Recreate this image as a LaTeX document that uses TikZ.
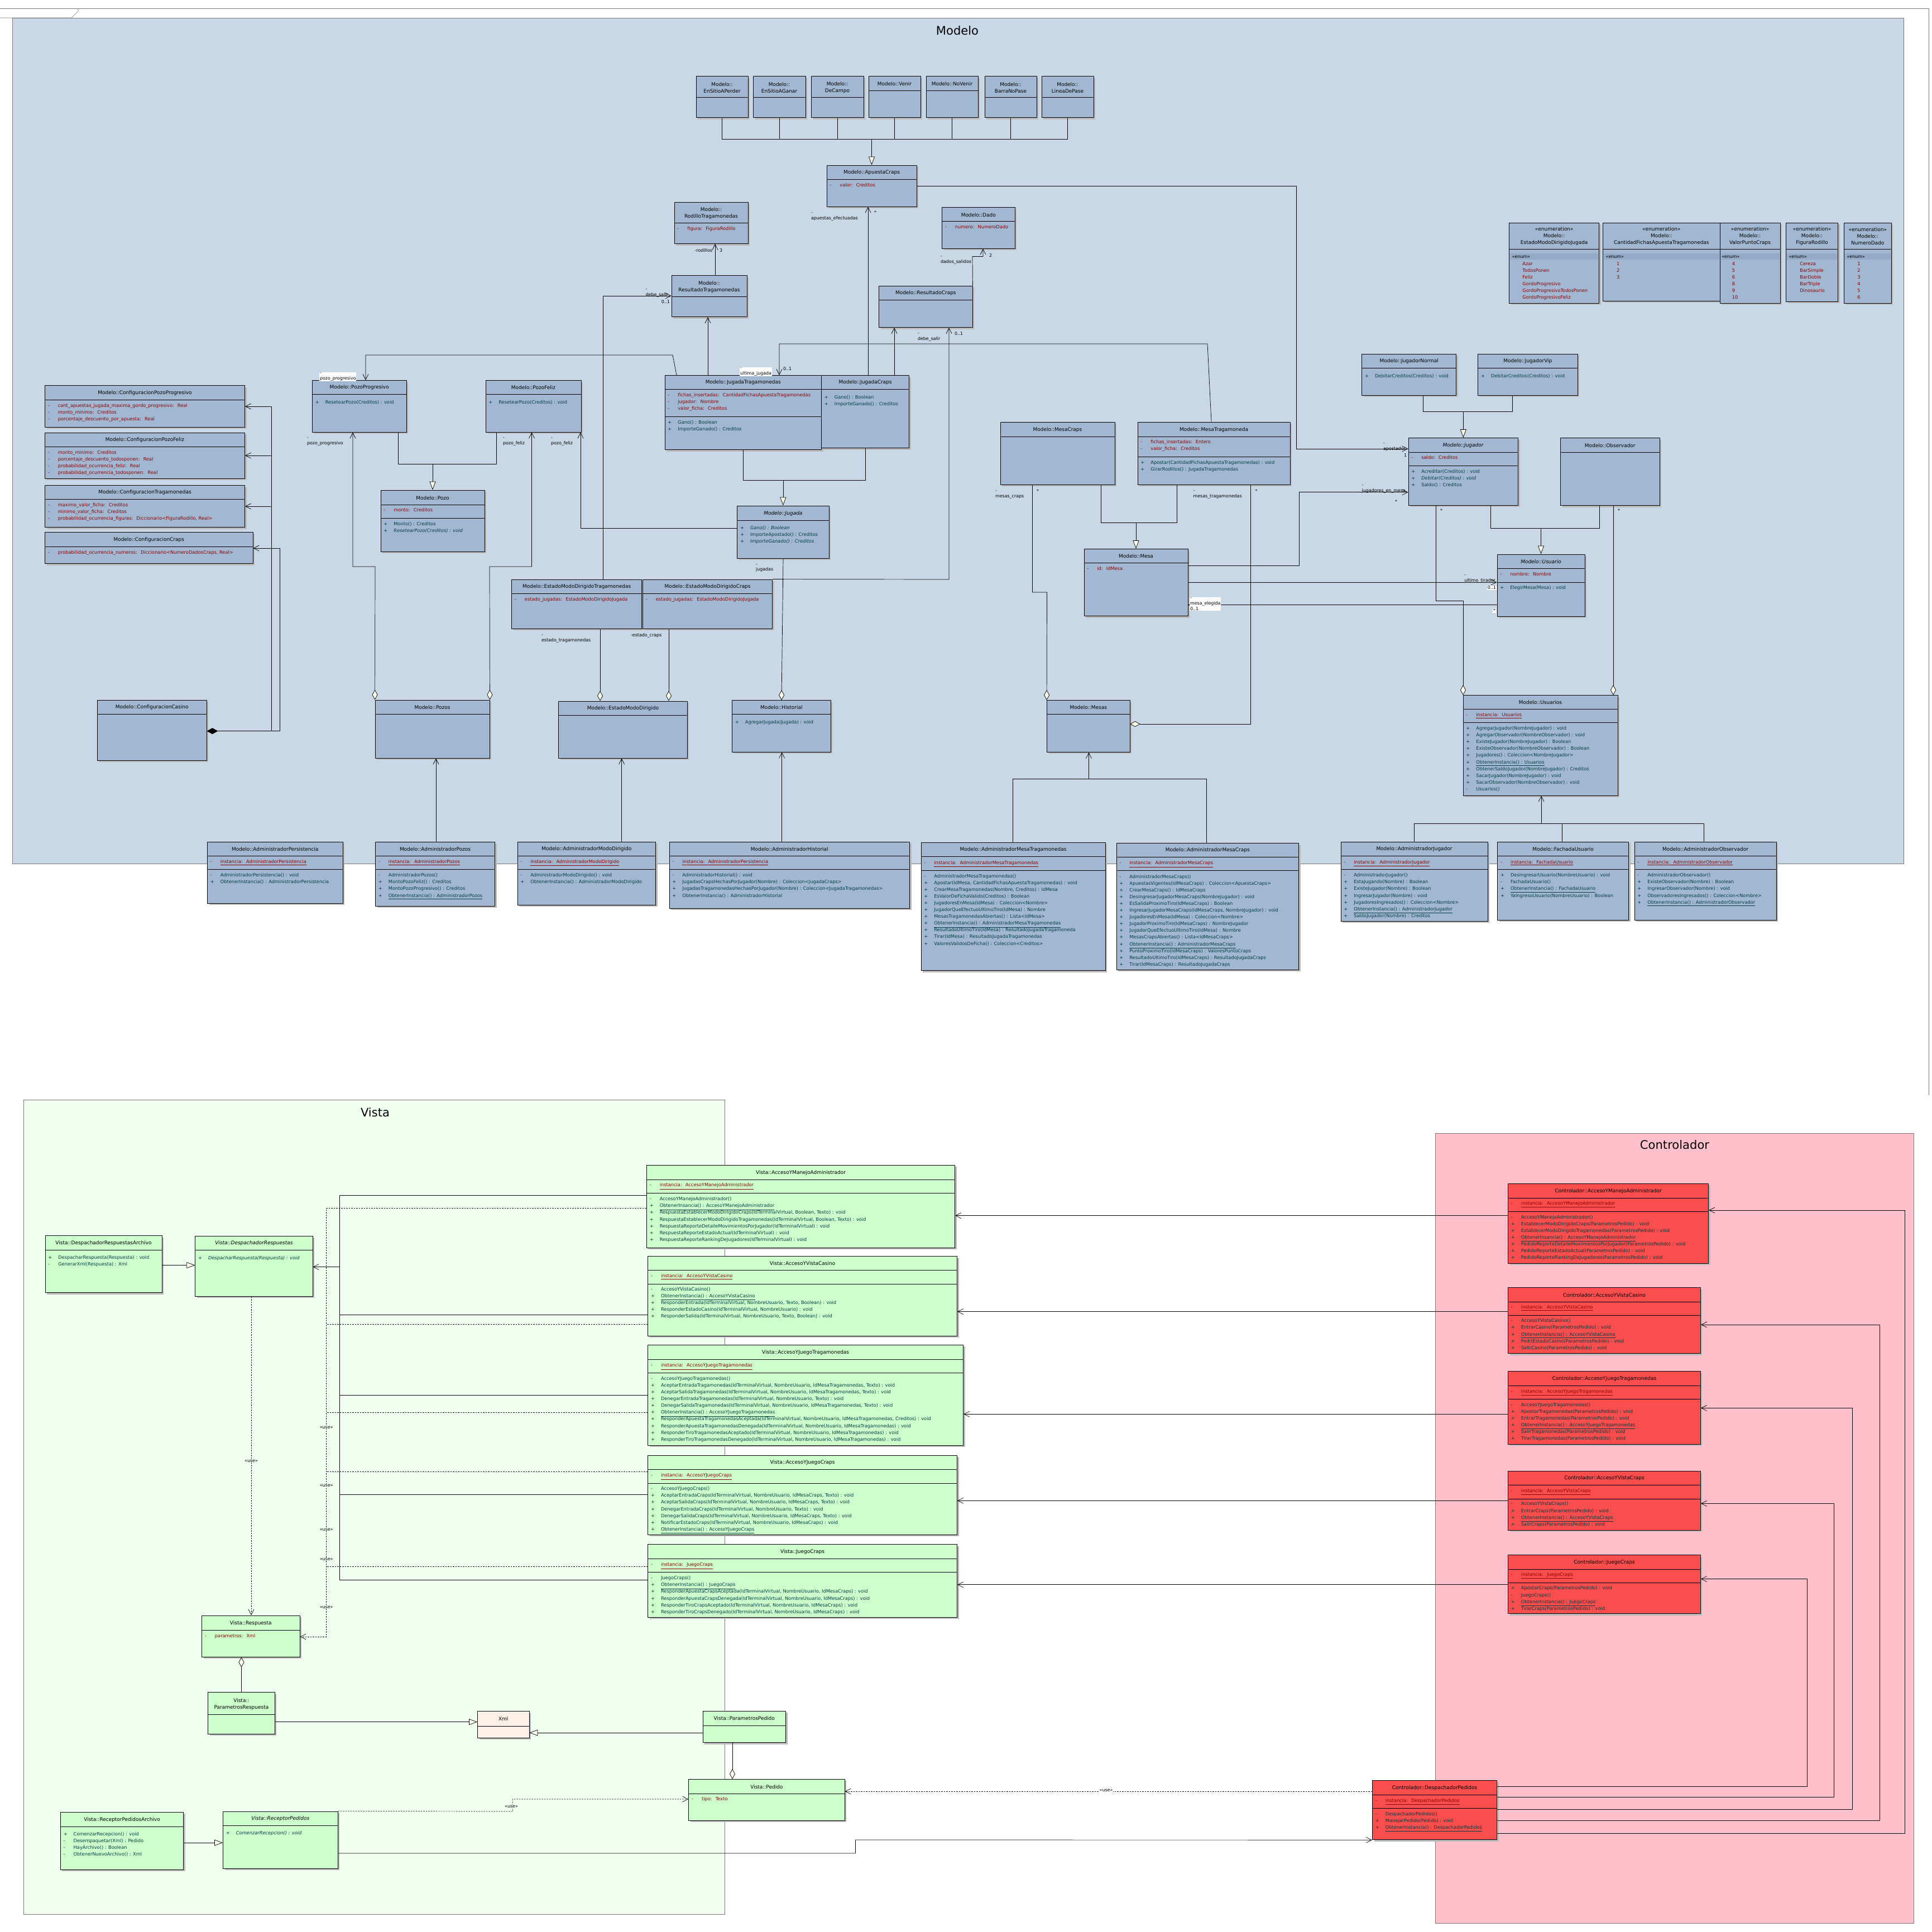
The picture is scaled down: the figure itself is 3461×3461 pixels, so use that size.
\documentclass[tikz,border=0pt]{standalone}
\usepackage{fontspec}
\setmainfont{DejaVu Sans}
\usetikzlibrary{arrows.meta,fit}
\definecolor{mpkg}{RGB}{201,216,230}
\definecolor{mcls}{RGB}{162,184,210}
\definecolor{menum}{RGB}{148,170,198}
\definecolor{vpkg}{RGB}{240,255,240}
\definecolor{vcls}{RGB}{204,255,204}
\definecolor{cpkg}{RGB}{255,192,203}
\definecolor{ccls}{RGB}{250,77,77}
\definecolor{xmlcls}{RGB}{253,240,230}
\definecolor{attrred}{RGB}{140,0,0}
\definecolor{methteal}{RGB}{0,60,64}
\definecolor{shadowgray}{RGB}{185,185,185}
\definecolor{pkgline}{RGB}{120,120,120}
\definecolor{tipfill}{RGB}{255,255,235}

\newcommand{\umlclass}[6]{%
  \fill[shadowgray] (#3+3,#4+3) rectangle (#5+3,#6+3);
  \node[draw, line width=0.5pt, fill=#2, inner sep=0pt, fit={(#3,#4)(#5,#6)}] (#1) {};}
\newcommand{\clssep}[2]{\draw[line width=0.5pt] (#1.west |- 0,#2) -- (#1.east |- 0,#2);}
\newcommand{\clstitle}[3]{\node[ttl] at (#1.north |- 0,#2) {#3};}
\newcommand{\mlist}[4]{%
  \foreach \mmark/\mtext [count=\mnum from 0] in {#4}
    {\node[#1, anchor=base west] at (#2, #3+12.1*\mnum) {\makebox[0.36cm][l]{\mmark}\mtext};}}

\begin{document}
\begin{tikzpicture}[x=0.02cm, y=-0.02cm,
  ttl/.style={font=\fontsize{5.1}{6.8}\selectfont, align=center, inner sep=0pt},
  attr/.style={font=\fontsize{4.7}{5.6}\selectfont, text=attrred, inner sep=0pt},
  meth/.style={font=\fontsize{4.7}{5.6}\selectfont, text=methteal, inner sep=0pt},
  lbl/.style={font=\fontsize{4.5}{5.6}\selectfont, inner sep=0.4pt, align=left},
  pkgttl/.style={font=\fontsize{12}{14}\selectfont, inner sep=0pt},
  conn/.style={draw=black, line width=0.4pt},
  assoc/.style={conn, -{Straight Barb[length=0.2cm, width=0.2cm]}},
  gen/.style={conn, -{Triangle[fill=tipfill, length=0.3cm, width=0.22cm]}},
  aggr/.style={conn, {Diamond[fill=tipfill, length=0.36cm, width=0.2cm]}-},
  aggrto/.style={conn, {Diamond[fill=tipfill, length=0.36cm, width=0.2cm]}-{Straight Barb[length=0.2cm, width=0.2cm]}},
  dep/.style={conn, dash pattern=on 0.05cm off 0.04cm, -{Straight Barb[length=0.2cm, width=0.2cm]}},
  depline/.style={conn, dash pattern=on 0.05cm off 0.04cm}]
\useasboundingbox (0,0) rectangle (3461,3461);
\fill[white] (0,0) rectangle (3461,3461);

\draw[pkgline, line width=0.4pt] (0,15) -- (3455,15) -- (3455,1962);
\draw[pkgline, line width=0.4pt] (0,32) -- (128,32) -- (140,20) -- (140,15);

% packages
\draw[pkgline, fill=mpkg, line width=0.4pt] (22,32) rectangle (3410,1547);
\node[pkgttl] (tModelo) at (1715,55) {Modelo};
\draw[pkgline, fill=vpkg, line width=0.4pt] (42,1970) rectangle (1298,3429);
\node[pkgttl] (tVista) at (672,1993) {Vista};
\draw[pkgline, fill=cpkg, line width=0.4pt] (2571,2030) rectangle (3428,3445);
\node[pkgttl] (tControlador) at (3000,2051) {Controlador};

% Modelo: apuestas craps
\umlclass{EnSitioAPerder}{mcls}{1247}{136.5}{1340}{210.6}
\clssep{EnSitioAPerder}{174.5}
\clstitle{EnSitioAPerder}{157}{Modelo::\\EnSitioAPerder}
\umlclass{EnSitioAGanar}{mcls}{1349}{136.5}{1443}{210.6}
\clssep{EnSitioAGanar}{174.5}
\clstitle{EnSitioAGanar}{157}{Modelo::\\EnSitioAGanar}
\umlclass{DeCampo}{mcls}{1453}{136.5}{1547}{210.6}
\clssep{DeCampo}{174.5}
\clstitle{DeCampo}{157}{Modelo::\\DeCampo}
\umlclass{Venir}{mcls}{1556}{136.5}{1649}{210.6}
\clssep{Venir}{162.4}
\clstitle{Venir}{150}{Modelo::Venir}
\umlclass{NoVenir}{mcls}{1659}{136.5}{1752}{210.6}
\clssep{NoVenir}{162.4}
\clstitle{NoVenir}{150}{Modelo::NoVenir}
\umlclass{BarraNoPase}{mcls}{1764}{136.5}{1857}{210.6}
\clssep{BarraNoPase}{174.5}
\clstitle{BarraNoPase}{157}{Modelo::\\BarraNoPase}
\umlclass{LineaDePase}{mcls}{1866}{136.5}{1959}{210.6}
\clssep{LineaDePase}{174.5}
\clstitle{LineaDePase}{157}{Modelo::\\LineaDePase}

\umlclass{ApuestaCraps}{mcls}{1481}{296}{1642}{370}
\clssep{ApuestaCraps}{321}
\clstitle{ApuestaCraps}{309}{Modelo::ApuestaCraps}
\mlist{attr}{1486}{334.6}{-/valor:~ Creditos}

\umlclass{RodilloTragamonedas}{mcls}{1208}{362}{1340}{436.5}
\clssep{RodilloTragamonedas}{399.5}
\clstitle{RodilloTragamonedas}{382}{Modelo::\\RodilloTragamonedas}
\mlist{attr}{1213}{412}{-/figura:~ FiguraRodillo}

\umlclass{ResultadoTragamonedas}{mcls}{1203}{493.6}{1338}{567.7}
\clssep{ResultadoTragamonedas}{531.6}
\clstitle{ResultadoTragamonedas}{514}{Modelo::\\ResultadoTragamonedas}

\umlclass{Dado}{mcls}{1687.5}{371}{1818}{445}
\clssep{Dado}{396}
\clstitle{Dado}{385}{Modelo::Dado}
\mlist{attr}{1692.5}{409.6}{-/numero:~ NumeroDado}

\umlclass{ResultadoCraps}{mcls}{1574.6}{512}{1742}{586.5}
\clssep{ResultadoCraps}{537}
\clstitle{ResultadoCraps}{525}{Modelo::ResultadoCraps}

\umlclass{JugadaTragamonedas}{mcls}{1191}{672.5}{1471.5}{805.5}
\clssep{JugadaTragamonedas}{697}
\clssep{JugadaTragamonedas}{746.7}
\clstitle{JugadaTragamonedas}{685.5}{Modelo::JugadaTragamonedas}
\mlist{attr}{1196}{710.4}{-/fichas\_insertadas:~ CantidadFichasApuestaTragamonedas, -/jugador:~ Nombre, -/valor\_ficha:~ Creditos}
\mlist{meth}{1196}{759.2}{+/Gano() : Boolean, +/ImporteGanado() : Creditos}

\umlclass{JugadaCraps}{mcls}{1471.5}{672.5}{1628.7}{802.6}
\clssep{JugadaCraps}{697}
\clstitle{JugadaCraps}{685.5}{Modelo::JugadaCraps}
\mlist{meth}{1476.5}{714.3}{+/Gano() : Boolean, +/ImporteGanado() : Creditos}

\umlclass{Jugada}{mcls}{1320.7}{906}{1485}{1000}
\clssep{Jugada}{932}
\clstitle{Jugada}{920}{\textit{Modelo::Jugada}}
\mlist{meth}{1325.7}{948}{+/\textit{Gano() : Boolean}, +/ImporteApostado() : Creditos, +/\textit{ImporteGanado() : Creditos}}

% Modelo: pozos y configuracion
\umlclass{PozoProgresivo}{mcls}{559.5}{681.5}{728}{774}
\clssep{PozoProgresivo}{706.5}
\clstitle{PozoProgresivo}{694.5}{Modelo::PozoProgresivo}
\mlist{meth}{564.5}{723.4}{+/ResetearPozo(Creditos) : void}

\umlclass{PozoFeliz}{mcls}{870}{681.5}{1041}{774}
\clssep{PozoFeliz}{706.5}
\clstitle{PozoFeliz}{694.5}{Modelo::PozoFeliz}
\mlist{meth}{875}{723.4}{+/ResetearPozo(Creditos) : void}

\umlclass{Pozo}{mcls}{682}{878}{868}{988}
\clssep{Pozo}{904}
\clssep{Pozo}{928}
\clstitle{Pozo}{892}{Modelo::Pozo}
\mlist{attr}{687}{916.2}{-/monto:~ Creditos}
\mlist{meth}{687}{941}{+/Monto() : Creditos, +/\textit{ResetearPozo(Creditos) : void}}

\umlclass{Pozos}{mcls}{672}{1254}{877}{1358}
\clssep{Pozos}{1279}
\clstitle{Pozos}{1267}{Modelo::Pozos}

\umlclass{ConfigPozoProgresivo}{mcls}{80.5}{690.5}{438.5}{765.4}
\clssep{ConfigPozoProgresivo}{716}
\clstitle{ConfigPozoProgresivo}{704}{Modelo::ConfiguracionPozoProgresivo}
\mlist{attr}{85.5}{729.6}{-/cant\_apuestas\_jugada\_maxima\_gordo\_progresivo:~ Real, -/monto\_minimo:~ Creditos, -/porcentaje\_descuento\_por\_apuesta:~ Real}

\umlclass{ConfigPozoFeliz}{mcls}{80.5}{775}{438.5}{857.4}
\clssep{ConfigPozoFeliz}{800}
\clstitle{ConfigPozoFeliz}{788}{Modelo::ConfiguracionPozoFeliz}
\mlist{attr}{85.5}{813.5}{-/monto\_minimo:~ Creditos, -/porcentaje\_descuento\_todosponen:~ Real, -/probabilidad\_ocurrencia\_feliz:~ Real, -/probabilidad\_ocurrencia\_todosponen:~ Real}

\umlclass{ConfigTragamonedas}{mcls}{80.5}{869.5}{438.5}{944.5}
\clssep{ConfigTragamonedas}{894.5}
\clstitle{ConfigTragamonedas}{882.5}{Modelo::ConfiguracionTragamonedas}
\mlist{attr}{85.5}{907.3}{-/maximo\_valor\_ficha:~ Creditos, -/minimo\_valor\_ficha:~ Creditos, -/{probabilidad\_ocurrencia\_figuras:~ Diccionario<FiguraRodillo, Real>}}

\umlclass{ConfigCraps}{mcls}{80.5}{953}{453}{1009.6}
\clssep{ConfigCraps}{979}
\clstitle{ConfigCraps}{967}{Modelo::ConfiguracionCraps}
\mlist{attr}{85.5}{992.5}{-/{probabilidad\_ocurrencia\_numeros:~ Diccionario<NumeroDadosCraps, Real>}}

\umlclass{ConfigCasino}{mcls}{174.4}{1254}{370}{1362}
\clssep{ConfigCasino}{1279}
\clstitle{ConfigCasino}{1267}{Modelo::ConfiguracionCasino}

% Modelo: modo dirigido e historial
\umlclass{EstadoTragamonedas}{mcls}{916.6}{1038}{1149.7}{1126.4}
\clssep{EstadoTragamonedas}{1063}
\clstitle{EstadoTragamonedas}{1051}{Modelo::EstadoModoDirigidoTragamonedas}
\mlist{attr}{921.6}{1076.3}{-/estado\_jugadas:~ EstadoModoDirigidoJugada}

\umlclass{EstadoCraps}{mcls}{1151.5}{1038}{1383.6}{1126.4}
\clssep{EstadoCraps}{1063}
\clstitle{EstadoCraps}{1051}{Modelo::EstadoModoDirigidoCraps}
\mlist{attr}{1156.5}{1076.3}{-/estado\_jugadas:~ EstadoModoDirigidoJugada}

\umlclass{EstadoModoDirigido}{mcls}{1000.8}{1256}{1231}{1358}
\clssep{EstadoModoDirigido}{1281}
\clstitle{EstadoModoDirigido}{1269}{Modelo::EstadoModoDirigido}

\umlclass{Historial}{mcls}{1311.5}{1254.6}{1488}{1347}
\clssep{Historial}{1279.5}
\clstitle{Historial}{1267.5}{Modelo::Historial}
\mlist{meth}{1316.5}{1296.4}{+/AgregarJugada(Jugada) : void}

% Modelo: mesas
\umlclass{MesaCraps}{mcls}{1792}{756}{1997}{868}
\clssep{MesaCraps}{782}
\clstitle{MesaCraps}{770}{Modelo::MesaCraps}

\umlclass{MesaTragamoneda}{mcls}{2038}{756}{2311}{868}
\clssep{MesaTragamoneda}{782}
\clssep{MesaTragamoneda}{818}
\clstitle{MesaTragamoneda}{770}{Modelo::MesaTragamoneda}
\mlist{attr}{2043}{794}{-/fichas\_insertadas:~ Entero, -/valor\_ficha:~ Creditos}
\mlist{meth}{2043}{831.2}{+/Apostar(CantidadFichasApuestaTragamonedas) : void, +/GirarRodillos() : JugadaTragamonedas}

\umlclass{Mesa}{mcls}{1942}{983.5}{2128}{1103.6}
\clssep{Mesa}{1008.5}
\clstitle{Mesa}{996.5}{Modelo::Mesa}
\mlist{attr}{1947}{1021.4}{-/id:~ IdMesa}

\umlclass{Mesas}{mcls}{1875.5}{1254.5}{2024}{1347.4}
\clssep{Mesas}{1279.5}
\clstitle{Mesas}{1267.5}{Modelo::Mesas}

% Modelo: usuarios
\umlclass{JugadorNormal}{mcls}{2439.7}{634}{2608.8}{708.3}
\clssep{JugadorNormal}{659}
\clstitle{JugadorNormal}{647.5}{Modelo::JugadorNormal}
\mlist{meth}{2444.7}{676.4}{+/DebitarCreditos(Creditos) : void}

\umlclass{JugadorVip}{mcls}{2647.8}{634}{2826}{708.3}
\clssep{JugadorVip}{659}
\clstitle{JugadorVip}{647.5}{Modelo::JugadorVip}
\mlist{meth}{2652.8}{676.4}{+/DebitarCreditos(Creditos) : void}

\umlclass{Jugador}{mcls}{2523}{784.5}{2719.6}{905.4}
\clssep{Jugador}{810}
\clssep{Jugador}{834.5}
\clstitle{Jugador}{798}{\textit{Modelo::Jugador}}
\mlist{attr}{2528}{822.3}{-/saldo:~ Creditos}
\mlist{meth}{2528}{847.3}{+/Acreditar(Creditos) : void, +/\textit{Debitar(Creditos) : void}, +/Saldo() : Creditos}

\umlclass{Observador}{mcls}{2795.5}{784.5}{2973}{905.8}
\clssep{Observador}{810}
\clstitle{Observador}{798}{Modelo::Observador}

\umlclass{Usuario}{mcls}{2682}{993}{2839}{1104}
\clssep{Usuario}{1018}
\clssep{Usuario}{1043}
\clstitle{Usuario}{1006}{\textit{Modelo::Usuario}}
\mlist{attr}{2687}{1031.2}{-/nombre:~ Nombre}
\mlist{meth}{2687}{1055.3}{+/ElegirMesa(Mesa) : void}

\umlclass{Usuarios}{mcls}{2621}{1245.6}{2898}{1425}
\clssep{Usuarios}{1270.6}
\clssep{Usuarios}{1294.7}
\clstitle{Usuarios}{1258.5}{Modelo::Usuarios}
\mlist{attr}{2626}{1283.4}{-/\underline{instancia:~ Usuarios}}
\mlist{meth}{2626}{1307.5}{+/AgregarJugador(NombreJugador) : void, +/AgregarObservador(NombreObservador) : void, +/ExisteJugador(NombreJugador) : Boolean, +/ExisteObservador(NombreObservador) : Boolean, +/Jugadores() : Coleccion<NombreJugador>, +/\underline{ObtenerInstancia() : Usuarios}, +/ObtenerSaldoJugador(NombreJugador) : Creditos, +/SacarJugador(NombreJugador) : void, +/SacarObservador(NombreObservador) : void, -/Usuarios()}

% Modelo: enumeraciones
\umlclass{EnumEstado}{mcls}{2703.8}{399}{2864.5}{543}
\clssep{EnumEstado}{446.6}
\fill[menum] (2705,453.5) rectangle (2863,465);
\clstitle{EnumEstado}{423}{«enumeration»\\Modelo::\\EstadoModoDirigidoJugada}
\node[lbl, anchor=base west] at (2707.8,462) {«enum»};
\mlist{attr}{2709}{475.3}{/Azar, /TodosPonen, /Feliz, /GordoProgresivo, /GordoProgresivoTodosPonen, /GordoProgresivoFeliz}

\umlclass{EnumCantidad}{mcls}{2871.6}{399}{3081}{539.3}
\clssep{EnumCantidad}{446.6}
\fill[menum] (2873,453.5) rectangle (3079.5,465);
\clstitle{EnumCantidad}{423}{«enumeration»\\Modelo::\\CantidadFichasApuestaTragamonedas}
\node[lbl, anchor=base west] at (2875.6,462) {«enum»};
\mlist{attr}{2877.7}{475.3}{/1, /2, /3}

\umlclass{EnumPunto}{mcls}{3081}{399}{3189}{543}
\clssep{EnumPunto}{446.6}
\fill[menum] (3082.5,453.5) rectangle (3187.5,465);
\clstitle{EnumPunto}{423}{«enumeration»\\Modelo::\\ValorPuntoCraps}
\node[lbl, anchor=base west] at (3083,462) {«enum»};
\mlist{attr}{3084.5}{475.3}{/4, /5, /6, /8, /9, /10}

\umlclass{EnumFigura}{mcls}{3199.5}{399}{3292.5}{540}
\clssep{EnumFigura}{446.6}
\fill[menum] (3201,453.5) rectangle (3291,465);
\clstitle{EnumFigura}{423}{«enumeration»\\Modelo::\\FiguraRodillo}
\node[lbl, anchor=base west] at (3203.5,462) {«enum»};
\mlist{attr}{3206}{475.3}{/Cereza, /BarSimple, /BarDoble, /BarTriple, /Dinosaurio}

\umlclass{EnumNumero}{mcls}{3303.5}{399}{3388}{543}
\clssep{EnumNumero}{446.6}
\fill[menum] (3305,453.5) rectangle (3386.5,465);
\clstitle{EnumNumero}{423}{«enumeration»\\Modelo::\\NumeroDado}
\node[lbl, anchor=base west] at (3307.5,462) {«enum»};
\mlist{attr}{3309}{475.3}{/1, /2, /3, /4, /5, /6}

% Modelo: administradores
\umlclass{AdminPersistencia}{mcls}{371.5}{1508.3}{614}{1618.3}
\clssep{AdminPersistencia}{1533.3}
\clssep{AdminPersistencia}{1557.7}
\clstitle{AdminPersistencia}{1521}{Modelo::AdministradorPersistencia}
\mlist{attr}{376.5}{1546.3}{-/\underline{instancia:~ AdministradorPersistencia}}
\mlist{meth}{376.5}{1570.7}{-/AdministradorPersistencia() : void, +/ObtenerInstancia() : AdministradorPersistencia}

\umlclass{AdminPozos}{mcls}{672.6}{1508.3}{886.5}{1623.3}
\clssep{AdminPozos}{1533.3}
\clssep{AdminPozos}{1557.7}
\clstitle{AdminPozos}{1521}{Modelo::AdministradorPozos}
\mlist{attr}{677.6}{1546.3}{-/\underline{instancia:~ AdministradorPozos}}
\mlist{meth}{677.6}{1570.7}{-/AdministradorPozos(), +/MontoPozoFeliz() : Creditos, +/MontoPozoProgresivo() : Creditos, +/\underline{ObtenerInstancia() : AdministradorPozos}}

\umlclass{AdminModoDirigido}{mcls}{927}{1508.3}{1174.5}{1621}
\clssep{AdminModoDirigido}{1533.3}
\clssep{AdminModoDirigido}{1557.7}
\clstitle{AdminModoDirigido}{1521}{Modelo::AdministradorModoDirigido}
\mlist{attr}{932}{1546.3}{-/\underline{instancia:~ AdministradorModoDirigido}}
\mlist{meth}{932}{1570.7}{-/AdministradorModoDirigido() : void, +/ObtenerInstancia() : AdministradorModoDirigido}

\umlclass{AdminHistorial}{mcls}{1199}{1508.3}{1629.5}{1627}
\clssep{AdminHistorial}{1533.3}
\clssep{AdminHistorial}{1557.7}
\clstitle{AdminHistorial}{1521}{Modelo::AdministradorHistorial}
\mlist{attr}{1204}{1546.3}{-/\underline{instancia:~ AdministradorPersistencia}}
\mlist{meth}{1204}{1570.7}{-/AdministradorHistorial() : void, +/JugadasCrapsHechasPorJugador(Nombre) : Coleccion<JugadaCraps>, +/JugadasTragamonedasHechasPorJugador(Nombre) : Coleccion<JugadaTragamonedas>, +/ObtenerInstancia() : AdministradorHistorial}

\umlclass{AdminMesaTragamonedas}{mcls}{1650}{1509.3}{1980}{1738.7}
\clssep{AdminMesaTragamonedas}{1534.3}
\clssep{AdminMesaTragamonedas}{1559.3}
\clstitle{AdminMesaTragamonedas}{1522}{Modelo::AdministradorMesaTragamonedas}
\mlist{attr}{1655}{1548}{-/\underline{instancia:~ AdministradorMesaTragamonedas}}
\mlist{meth}{1655}{1572}{-/AdministradorMesaTragamonedas(), +/{Apostar(IdMesa, CantidadFichasApuestaTragamonedas) : void}, +/{CrearMesaTragamonedas(Nombre, Creditos) : IdMesa}, +/EsValorDeFichaValido(Creditos) : Boolean, +/JugadoresEnMesa(IdMesa) : Coleccion<Nombre>, +/JugadorQueEfectuoUltimoTiro(IdMesa) : Nombre, +/MesasTragamonedasAbiertas() : Lista<IdMesa>, +/\underline{ObtenerInstancia() : AdministradorMesaTragamonedas}, +/ResultadoUltimoTiro(IdMesa) : ResultadoJugadaTragamoneda, +/Tirar(IdMesa) : ResultadoJugadaTragamonedas, +/ValoresValidosDeFicha() : Coleccion<Creditos>}

\umlclass{AdminMesaCraps}{mcls}{2000}{1510.7}{2326.5}{1737.3}
\clssep{AdminMesaCraps}{1535}
\clssep{AdminMesaCraps}{1559.3}
\clstitle{AdminMesaCraps}{1523}{Modelo::AdministradorMesaCraps}
\mlist{attr}{2005}{1548.7}{-/\underline{instancia:~ AdministradorMesaCraps}}
\mlist{meth}{2005}{1573}{-/AdministradorMesaCraps(), +/ApuestasVigentes(IdMesaCraps) : Coleccion<ApuestaCraps>, +/CrearMesaCraps() : IdMesaCraps, +/DesingresarJugadorMesaCraps(NombreJugador) : void, +/EsSalidaProximoTiro(IdMesaCraps) : Boolean, +/{IngresarJugadorMesaCraps(IdMesaCraps, NombreJugador) : void}, +/JugadoresEnMesa(IdMesa) : Coleccion<Nombre>, +/JugadorProximoTiro(IdMesaCraps) : NombreJugador, +/JugadorQueEfectuoUltimoTiro(IdMesa) : Nombre, +/MesasCrapsAbiertas() : Lista<IdMesaCraps>, +/\underline{ObtenerInstancia() : AdministradorMesaCraps}, +/PuntoProximoTiro(IdMesaCraps) : ValoresPuntoCraps, +/ResultadoUltimoTiro(IdMesaCraps) : ResultadoJugadaCraps, +/Tirar(IdMesaCraps) : ResultadoJugadaCraps}

\umlclass{AdminJugador}{mcls}{2402}{1508.3}{2665}{1650}
\clssep{AdminJugador}{1533.3}
\clssep{AdminJugador}{1557.3}
\clstitle{AdminJugador}{1521}{Modelo::AdministradorJugador}
\mlist{attr}{2407}{1547}{-/\underline{instancia:~ AdministradorJugador}}
\mlist{meth}{2407}{1570.7}{-/AdministradorJugador(), +/EstaJugando(Nombre) : Boolean, +/ExisteJugador(Nombre) : Boolean, +/IngresarJugador(Nombre) : void, +/JugadoresIngresados() : Coleccion<Nombre>, +/\underline{ObtenerInstancia() : AdministradorJugador}, +/SaldoJugador(Nombre) : Creditos}

\umlclass{FachadaUsuario}{mcls}{2682.7}{1508.3}{2917.5}{1648.3}
\clssep{FachadaUsuario}{1533.3}
\clssep{FachadaUsuario}{1557.3}
\clstitle{FachadaUsuario}{1521}{Modelo::FachadaUsuario}
\mlist{attr}{2687.7}{1547}{-/\underline{instancia:~ FachadaUsuario}}
\mlist{meth}{2687.7}{1570.7}{+/DesingresarUsuario(NombreUsuario) : void, -/FachadaUsuario(), +/\underline{ObtenerInstancia() : FachadaUsuario}, +/YaIngresoUsuario(NombreUsuario) : Boolean}

\umlclass{AdminObservador}{mcls}{2928}{1508.3}{3182}{1648.3}
\clssep{AdminObservador}{1533.3}
\clssep{AdminObservador}{1557.3}
\clstitle{AdminObservador}{1521}{Modelo::AdministradorObservador}
\mlist{attr}{2933}{1547}{-/\underline{instancia:~ AdministradorObservador}}
\mlist{meth}{2933}{1570.7}{-/AdministradorObservador(), +/ExisteObservador(Nombre) : Boolean, +/IngresarObservador(Nombre) : void, +/ObservadoresIngresados() : Coleccion<Nombre>, +/\underline{ObtenerInstancia() : AdministradorObservador}}

% Modelo: conectores
\foreach \n in {EnSitioAPerder,EnSitioAGanar,DeCampo,Venir,NoVenir,BarraNoPase,LineaDePase}
  \draw[conn] (\n.south) -- (\n.south |- 0,249.5);
\draw[conn] (EnSitioAPerder.south |- 0,249.5) -- (LineaDePase.south |- 0,249.5);
\draw[gen] (ApuestaCraps.north |- 0,249.5) -- (ApuestaCraps.north);

\draw[conn] (JugadaTragamonedas.south) -- (JugadaTragamonedas.south |- 0,860) -- (JugadaCraps.south |- 0,860) -- (JugadaCraps.south);
\draw[gen] (Jugada.north |- 0,860) -- (Jugada.north);
\draw[conn] (PozoProgresivo.south -| 713.5,0) -- (713.5,831) -- (889.5,831) -- (PozoFeliz.south -| 889.5,0);
\draw[gen] (Pozo.north |- 0,831) -- (Pozo.north);
\draw[conn] (MesaCraps.south -| 1972,0) -- (1972,936) -- (2108,936) -- (MesaTragamoneda.south -| 2108,0);
\draw[gen] (Mesa.north |- 0,936) -- (Mesa.north);
\draw[conn] (JugadorNormal.south -| 2549.6,0) -- (2549.6,737) -- (2709.6,737) -- (JugadorVip.south -| 2709.6,0);
\draw[gen] (Jugador.north |- 0,737) -- (Jugador.north);
\draw[conn] (Jugador.south -| 2670,0) -- (2670,946.5) -- (2865,946.5) -- (Observador.south -| 2865,0);
\draw[gen] (Usuario.north |- 0,946.5) -- (Usuario.north);

\draw[assoc] (JugadaTragamonedas.north -| 1268,0) -- (ResultadoTragamonedas.south -| 1268,0);
\draw[assoc] (ResultadoTragamonedas.north -| 1281,0) -- (RodilloTragamonedas.south -| 1281,0);
\node[lbl, anchor=east] at (1277,448.5) {-rodillos};
\node[lbl, anchor=west] at (1288,448.5) {3};
\draw[assoc] (JugadaCraps.north -| 1555,0) -- (ApuestaCraps.south -| 1555,0);
\node[lbl, anchor=west] at (1452,388) {-\\apuestas\_efectuadas};
\node[lbl, anchor=west] at (1565,381) {*};
\draw[assoc] (JugadaCraps.north -| 1602,0) -- (ResultadoCraps.south -| 1602,0);
\draw[assoc] (EstadoCraps.north east) -- (1700,1038) -- (ResultadoCraps.south -| 1700,0);
\node[lbl, anchor=west] at (1643,604.5) {-\\debe\_salir};
\node[lbl, anchor=west] at (1709,598) {0..1};
\draw[assoc] (ResultadoCraps.north east) -- (1742,459.5) -- (1761,459.5) -- (Dado.south -| 1761,0);
\node[lbl, anchor=west] at (1684,466) {-\\dados\_salidos};
\node[lbl, anchor=west] at (1771,457.5) {2};
\draw[assoc] (EstadoTragamonedas.north -| 1080,0) -- (1080,530) -- (ResultadoTragamonedas.west |- 0,530);
\node[lbl, anchor=east] at (1198,525) {-\\debe\_salir};
\node[lbl, anchor=east] at (1201,541) {0..1};
\draw[assoc] (JugadaTragamonedas.north -| 1212,0) -- (1205,636) -- (655,636) -- (PozoProgresivo.north -| 655,0);
\node[lbl, fill=white, anchor=west] at (572,675) {-\\pozo\_progresivo};
\draw[assoc] (MesaTragamoneda.north -| 2170,0) -- (2163,616) -- (1396,616) -- (JugadaTragamonedas.north -| 1396,0);
\node[lbl, fill=white, anchor=west] at (1325,666) {-\\ultima\_jugada};
\node[lbl, anchor=west] at (1402,661) {0..1};
\draw[assoc] (ApuestaCraps.east |- 0,333) -- (2322,333) -- (2322,804) -- (Jugador.west |- 0,804);
\node[lbl, anchor=east] at (2519,801) {-\\apostador};
\node[lbl, anchor=west] at (2514,816) {1};
\draw[assoc] (Jugada.west |- 0,946) -- (1040,946) -- (PozoFeliz.south -| 1040,0);
\node[lbl, anchor=west] at (986,791.5) {-\\pozo\_feliz};
\draw[assoc] (Mesa.east |- 0,1013) -- (2327,1013) -- (2327,881.8) -- (Jugador.west |- 0,881.8);
\node[lbl, anchor=east] at (2519,876.6) {-\\jugadores\_en\_mesa};
\node[lbl, anchor=west] at (2498,899) {*};
\draw[assoc] (Mesa.east |- 0,1043) -- (Usuario.west |- 0,1043);
\node[lbl, anchor=east] at (2680,1037) {-\\ultimo\_tirador};
\node[lbl, fill=white, anchor=east] at (2681,1053) {0..1};
\draw[assoc] (Usuario.west |- 0,1083.6) -- (Mesa.east |- 0,1083.6);
\node[lbl, fill=white, anchor=west] at (2131,1082) {-\\mesa\_elegida\\0..1};
\node[lbl, fill=white, anchor=east] at (2680,1094) {*};

\draw[aggrto] (Pozos.north west) -- (672,1015) -- (632,1015) -- (PozoProgresivo.south -| 632,0);
\node[lbl, anchor=west] at (549,791.5) {-\\pozo\_progresivo};
\draw[aggrto] (Pozos.north east) -- (877,1015) -- (952.5,1015) -- (PozoFeliz.south -| 952.5,0);
\node[lbl, anchor=west] at (900,791.5) {-\\pozo\_feliz};
\draw[aggr] (EstadoModoDirigido.north -| 1075,0) -- (EstadoTragamonedas.south -| 1075,0);
\draw[aggr] (EstadoModoDirigido.north -| 1198,0) -- (EstadoCraps.south -| 1198,0);
\node[lbl, anchor=west] at (969,1144) {-\\estado\_tragamonedas};
\node[lbl, anchor=west] at (1129,1138) {-estado\_craps};
\draw[aggr] (Historial.north -| 1400,0) -- (Jugada.south -| 1403,0);
\node[lbl, anchor=west] at (1353,1017.5) {-\\jugadas};
\draw[aggr] (Mesas.north west) -- (1875.5,1061) -- (1849.5,1061) -- (MesaCraps.south -| 1849.5,0);
\node[lbl, anchor=west] at (1782,886.5) {-\\mesas\_craps};
\node[lbl, anchor=west] at (1856,880) {*};
\draw[aggr] (Mesas.east |- 0,1297) -- (2240.5,1297) -- (MesaTragamoneda.south -| 2240.5,0);
\node[lbl, anchor=west] at (2136.5,886.5) {-\\mesas\_tragamonedas};
\node[lbl, anchor=west] at (2247.5,880) {*};
\draw[aggr] (Usuarios.north -| 2621,0) -- (2621,1076) -- (2572.7,1076) -- (Jugador.south -| 2572.7,0);
\node[lbl, anchor=west] at (2579,915) {*};
\draw[aggr] (Usuarios.north -| 2890,0) -- (Observador.south -| 2890,0);
\node[lbl, anchor=west] at (2897,915) {*};

\draw[assoc] (AdminPozos.north -| 781,0) -- (Pozos.south -| 781,0);
\draw[assoc] (AdminModoDirigido.north -| 1113.6,0) -- (EstadoModoDirigido.south -| 1113.6,0);
\draw[assoc] (AdminHistorial.north -| 1400.7,0) -- (Historial.south -| 1400.7,0);
\draw[conn] (AdminMesaTragamonedas.north -| 1814,0) -- (1814,1395) -- (2161,1395) -- (AdminMesaCraps.north -| 2161,0);
\draw[assoc] (1950.5,1395) -- (Mesas.south -| 1950.5,0);
\draw[conn] (AdminJugador.north -| 2533,0) -- (2533,1475) -- (3052,1475) -- (AdminObservador.north -| 3052,0);
\draw[conn] (FachadaUsuario.north -| 2798,0) -- (2798,1475);
\draw[assoc] (2761,1475) -- (Usuarios.south -| 2761,0);

\draw[conn, {Diamond[fill=black, length=0.4cm, width=0.22cm]}-] (ConfigCasino.east |- 0,1309.6) -- (501.5,1309.6) -- (501.5,982) -- (ConfigCraps.east |- 0,982);
\draw[assoc] (486,1309.6) -- (486,728) -- (ConfigPozoProgresivo.east |- 0,728);
\draw[assoc] (486,816) -- (ConfigPozoFeliz.east |- 0,816);
\draw[assoc] (486,907) -- (ConfigTragamonedas.east |- 0,907);
\draw[assoc] (ConfigCraps.east |- 0,982) ++(0.1,0) -- (ConfigCraps.east |- 0,982);

% Vista
\umlclass{vAdmin}{vcls}{1158.4}{2087.3}{1710.7}{2235.3}
\clssep{vAdmin}{2113.3}
\clssep{vAdmin}{2137.3}
\clstitle{vAdmin}{2101}{Vista::AccesoYManejoAdministrador}
\mlist{attr}{1163.4}{2125.7}{-/\underline{instancia:~ AccesoYManejoAdministrador}}
\mlist{meth}{1163.4}{2150.7}{-/AccesoYManejoAdministrador(), +/\underline{ObtenerInsancia() : AccesoYManejoAdministrador}, +/{RespuestaEstablecerModoDirigidoCraps(IdTerminalVirtual, Boolean, Texto) : void}, +/{RespuestaEstablecerModoDirigidoTragamonedas(IdTerminalVirtual, Boolean, Texto) : void}, +/RespuestaReporteDetalleMovimientosPorJugador(IdTerminalVirtual) : void, +/RespuestaReporteEstadoActual(IdTerminalVirtual) : void, +/RespuestaReporteRankingDeJugadores(IdTerminalVirtual) : void}

\umlclass{vCasino}{vcls}{1160.7}{2250.7}{1714.5}{2393.3}
\clssep{vCasino}{2275.3}
\clssep{vCasino}{2300.3}
\clstitle{vCasino}{2263}{Vista::AccesoYVistaCasino}
\mlist{attr}{1165.7}{2288.7}{-/\underline{instancia:~ AccesoYVistaCasino}}
\mlist{meth}{1165.7}{2312.3}{-/AccesoYVistaCasino(), +/\underline{ObtenerInstancia() : AccesoYVistaCasino}, +/{ResponderEntrada(IdTerminalVirtual, NombreUsuario, Texto, Boolean) : void}, +/{ResponderEstadoCasino(IdTerminalVirtual, NombreUsuario) : void}, +/{ResponderSalida(IdTerminalVirtual, NombreUsuario, Texto, Boolean) : void}}

\umlclass{vTragamonedas}{vcls}{1160.7}{2409.3}{1725.6}{2589.3}
\clssep{vTragamonedas}{2435.3}
\clssep{vTragamonedas}{2459.3}
\clstitle{vTragamonedas}{2423}{Vista::AccesoYJuegoTragamonedas}
\mlist{attr}{1165.7}{2448.7}{-/\underline{instancia:~ AccesoYJuegoTragamonedas}}
\mlist{meth}{1165.7}{2472.3}{-/AccesoYJuegoTragamonedas(), +/{AceptarEntradaTragamonedas(IdTerminalVirtual, NombreUsuario, IdMesaTragamonedas, Texto) : void}, +/{AceptarSalidaTragamonedas(IdTerminalVirtual, NombreUsuario, IdMesaTragamonedas, Texto) : void}, +/{DenegarEntradaTragamonedas(IdTerminalVirtual, NombreUsuario, Texto) : void}, +/{DenegarSalidaTragamonedas(IdTerminalVirtual, NombreUsuario, IdMesaTragamonedas, Texto) : void}, +/\underline{ObtenerInstancia() : AccesoYJuegoTragamonedas}, +/{ResponderApuestaTragamonedasAceptada(IdTerminalVirtual, NombreUsuario, IdMesaTragamonedas, Creditos) : void}, +/{ResponderApuestaTragamonedasDenegada(IdTerminalVirtual, NombreUsuario, IdMesaTragamonedas) : void}, +/{ResponderTiroTragamonedasAceptado(IdTerminalVirtual, NombreUsuario, IdMesaTragamonedas) : void}, +/{ResponderTiroTragamonedasDenegado(IdTerminalVirtual, NombreUsuario, IdMesaTragamonedas) : void}}

\umlclass{vAccesoCraps}{vcls}{1160.7}{2607.3}{1714.5}{2749.3}
\clssep{vAccesoCraps}{2632.3}
\clssep{vAccesoCraps}{2657.3}
\clstitle{vAccesoCraps}{2620}{Vista::AccesoYJuegoCraps}
\mlist{attr}{1165.7}{2645.7}{-/\underline{instancia:~ AccesoYJuegoCraps}}
\mlist{meth}{1165.7}{2669.7}{-/AccesoYJuegoCraps(), +/{AceptarEntradaCraps(IdTerminalVirtual, NombreUsuario, IdMesaCraps, Texto) : void}, +/{AceptarSalidaCraps(IdTerminalVirtual, NombreUsuario, IdMesaCraps, Texto) : void}, +/{DenegarEntradaCraps(IdTerminalVirtual, NombreUsuario, Texto) : void}, +/{DenegarSalidaCraps(IdTerminalVirtual, NombreUsuario, IdMesaCraps, Texto) : void}, +/{NotificarEstadoCraps(IdTerminalVirtual, NombreUsuario, IdMesaCraps) : void}, +/\underline{ObtenerInstancia() : AccesoYJuegoCraps}}

\umlclass{vJuegoCraps}{vcls}{1160.7}{2766.7}{1714.5}{2897.3}
\clssep{vJuegoCraps}{2792.3}
\clssep{vJuegoCraps}{2816.7}
\clstitle{vJuegoCraps}{2780}{Vista::JuegoCraps}
\mlist{attr}{1165.7}{2805.7}{-/\underline{instancia:~ JuegoCraps}}
\mlist{meth}{1165.7}{2829.7}{-/JuegoCraps(), +/\underline{ObtenerInstancia() : JuegoCraps}, +/{ResponderApuestaCrapsAceptada(IdTerminalVirtual, NombreUsuario, IdMesaCraps) : void}, +/{ResponderApuestaCrapsDenegada(IdTerminalVirtual, NombreUsuario, IdMesaCraps) : void}, +/{ResponderTiroCrapsAceptado(IdTerminalVirtual, NombreUsuario, IdMesaCraps) : void}, +/{ResponderTiroCrapsDenegado(IdTerminalVirtual, NombreUsuario, IdMesaCraps) : void}}

\umlclass{DespachadorArchivo}{vcls}{81}{2213.7}{290}{2315.5}
\clssep{DespachadorArchivo}{2239.7}
\clstitle{DespachadorArchivo}{2227}{Vista::DespachadorRespuestasArchivo}
\mlist{meth}{86}{2255.7}{+/DespacharRespuesta(Respuesta) : void, -/GenerarXml(Respuesta) : Xml}

\umlclass{Despachador}{vcls}{349.7}{2214.4}{560}{2322.3}
\clssep{Despachador}{2239.7}
\clstitle{Despachador}{2227.5}{\textit{Vista::DespachadorRespuestas}}
\mlist{meth}{354.7}{2256.5}{+/\textit{DespacharRespuesta(Respuesta) : void}}

\umlclass{Respuesta}{vcls}{361.6}{2894}{537}{2968.3}
\clssep{Respuesta}{2920.8}
\clstitle{Respuesta}{2908}{Vista::Respuesta}
\mlist{attr}{366.6}{2933}{-/parametros:~ Xml}

\umlclass{ParamRespuesta}{vcls}{372.9}{3031.8}{492}{3106}
\clssep{ParamRespuesta}{3071.6}
\clstitle{ParamRespuesta}{3053}{Vista::\\ParametrosRespuesta}

\umlclass{Xml}{xmlcls}{855.5}{3065.5}{948}{3113}
\clssep{Xml}{3092}
\clstitle{Xml}{3079}{Xml}

\umlclass{ReceptorArchivo}{vcls}{108.4}{3246}{328.7}{3349.4}
\clssep{ReceptorArchivo}{3272.8}
\clstitle{ReceptorArchivo}{3260}{Vista::ReceptorPedidosArchivo}
\mlist{meth}{113.4}{3288}{+/ComenzarRecepcion() : void, -/Desempaquetar(Xml) : Pedido, -/HayArchivo() : Boolean, -/ObtenerNuevoArchivo() : Xml}

\umlclass{Receptor}{vcls}{399.5}{3245}{605}{3347}
\clssep{Receptor}{3270.6}
\clstitle{Receptor}{3258}{\textit{Vista::ReceptorPedidos}}
\mlist{meth}{404.5}{3286.5}{+/\textit{ComenzarRecepcion() : void}}

\umlclass{ParamPedido}{vcls}{1259}{3065}{1407.6}{3121.7}
\clssep{ParamPedido}{3091.3}
\clstitle{ParamPedido}{3078.5}{Vista::ParametrosPedido}

\umlclass{Pedido}{vcls}{1233.7}{3187.3}{1513}{3261.3}
\clssep{Pedido}{3213.3}
\clstitle{Pedido}{3201}{Vista::Pedido}
\mlist{attr}{1238.7}{3225.7}{-/tipo:~ Texto}

% Controlador
\umlclass{cAdmin}{ccls}{2701.6}{2120.4}{3060.7}{2263.3}
\clssep{cAdmin}{2146.4}
\clssep{cAdmin}{2170.4}
\clstitle{cAdmin}{2134}{Controlador::AccesoYManejoAdministrador}
\mlist{attr}{2706.6}{2158.6}{-/\underline{instancia:~ AccesoYManejoAdministrador}}
\mlist{meth}{2706.6}{2183.1}{-/AccesoYManejoAdministrador(), +/EstablecerModoDirigidoCraps(ParametrosPedido) : void, +/EstablecerModoDirigidoTragamonedas(ParametrosPedido) : void, +/\underline{ObtenerInsancia() : AccesoYManejoAdministrador}, +/PedidoReporteDetalleMovimientosPorJugador(ParametrosPedido) : void, +/PedidoReporteEstadoActual(ParametrosPedido) : void, +/PedidoReporteRankingDeJugadores(ParametrosPedido) : void}

\umlclass{cCasino}{ccls}{2701.6}{2306.6}{3046.4}{2424.5}
\clssep{cCasino}{2332.7}
\clssep{cCasino}{2356.6}
\clstitle{cCasino}{2320}{Controlador::AccesoYVistaCasino}
\mlist{attr}{2706.6}{2344.3}{-/\underline{instancia:~ AccesoYVistaCasino}}
\mlist{meth}{2706.6}{2368.8}{-/AccesoYVistaCasino(), +/EntrarCasino(ParametrosPedido) : void, +/\underline{ObtenerInstancia() : AccesoYVistaCasino}, +/PedirEstadoCasino(ParametrosPedido) : void, +/SalirCasino(ParametrosPedido) : void}

\umlclass{cTragamonedas}{ccls}{2701.6}{2456.6}{3046.4}{2587.2}
\clssep{cTragamonedas}{2482.7}
\clssep{cTragamonedas}{2506.6}
\clstitle{cTragamonedas}{2470}{Controlador::AccesoYJuegoTragamonedas}
\mlist{attr}{2706.6}{2495.3}{-/\underline{instancia:~ AccesoYJuegoTragamonedas}}
\mlist{meth}{2706.6}{2519.3}{-/AccesoYJuegoTragamonedas(), +/ApostarTragamonedas(ParametrosPedido) : void, +/EntrarTragamonedas(ParametrosPedido) : void, +/\underline{ObtenerInstancia() : AccesoYJuegoTragamonedas}, +/SalirTragamonedas(ParametrosPedido) : void, +/TirarTragamonedas(ParametrosPedido) : void}

\umlclass{cVistaCraps}{ccls}{2701.6}{2635.7}{3046.4}{2741.3}
\clssep{cVistaCraps}{2660.7}
\clssep{cVistaCraps}{2685.7}
\clstitle{cVistaCraps}{2648}{Controlador::AccesoYVistaCraps}
\mlist{attr}{2706.6}{2673.4}{-/\underline{instancia:~ AccesoYVistaCraps}}
\mlist{meth}{2706.6}{2696.9}{-/AccesoYVistaCraps(), +/EntrarCraps(ParametrosPedido) : void, +/\underline{ObtenerInstancia() : AccesoYVistaCraps}, +/SalirCraps(ParametrosPedido) : void}

\umlclass{cJuegoCraps}{ccls}{2701.6}{2785.7}{3046.4}{2890.8}
\clssep{cJuegoCraps}{2811.2}
\clssep{cJuegoCraps}{2835.2}
\clstitle{cJuegoCraps}{2798.5}{Controlador::JuegoCraps}
\mlist{attr}{2706.6}{2823.4}{-/\underline{instancia:~ JuegoCraps}}
\mlist{meth}{2706.6}{2847.9}{+/ApostarCraps(ParametrosPedido) : void, -/JuegoCraps(), +/\underline{ObtenerInstancia() : JuegoCraps}, +/TirarCraps(ParametrosPedido) : void}

\umlclass{DespachadorPedidos}{ccls}{2458.5}{3189.3}{2681.6}{3295.7}
\clssep{DespachadorPedidos}{3215.7}
\clssep{DespachadorPedidos}{3239.3}
\clstitle{DespachadorPedidos}{3203}{Controlador::DespachadorPedidos}
\mlist{attr}{2463.5}{3228}{-/\underline{instancia:~ DespachadorPedidos}}
\mlist{meth}{2463.5}{3252}{-/DespachadorPedidos(), +/ManejarPedido(Pedido) : void, +/\underline{ObtenerInstancia() : DespachadorPedidos}}

% Vista: conectores
\draw[gen] (DespachadorArchivo.east |- 0,2266.5) -- (Despachador.west |- 0,2266.5);
\draw[gen] (ReceptorArchivo.east |- 0,3301) -- (Receptor.west |- 0,3301);
\draw[gen] (ParamRespuesta.east |- 0,3084.6) -- (Xml.west |- 0,3084.6);
\draw[gen] (ParamPedido.west |- 0,3104) -- (Xml.east |- 0,3104);
\draw[aggr] (Respuesta.south -| 432.5,0) -- (ParamRespuesta.north -| 432.5,0);
\draw[aggr] (Pedido.north -| 1312,0) -- (ParamPedido.south -| 1312,0);

\draw[conn] (vAdmin.west |- 0,2141.7) -- (608.6,2141.7) -- (608.6,2830.5) -- (vJuegoCraps.west |- 0,2830.5);
\draw[conn] (vCasino.west |- 0,2355) -- (608.6,2355);
\draw[conn] (vTragamonedas.west |- 0,2499) -- (608.6,2499);
\draw[conn] (vAccesoCraps.west |- 0,2677.5) -- (608.6,2677.5);
\draw[assoc] (608.6,2269.5) -- (Despachador.east |- 0,2269.5);

\draw[dep] (vAdmin.west |- 0,2164) -- (584.7,2164) -- (584.7,2932) -- (Respuesta.east |- 0,2932);
\draw[depline] (vCasino.west |- 0,2372) -- (584.7,2372);
\draw[depline] (vTragamonedas.west |- 0,2530.5) -- (584.7,2530.5);
\draw[depline] (vAccesoCraps.west |- 0,2636) -- (584.7,2636);
\draw[depline] (vJuegoCraps.west |- 0,2806) -- (584.7,2806);
\foreach \yy in {2557,2661,2740,2793,2879}
  \node[lbl, fill=vpkg, inner sep=0.2pt] at (584.7,\yy) {«use»};
\draw[dep] (Despachador.south -| 450,0) -- (Respuesta.north -| 450,0);
\node[lbl, fill=vpkg, inner sep=0.2pt] at (450,2617.7) {«use»};
\draw[dep] (Receptor.north east) -- (918.6,3245) -- (918.6,3223) -- (Pedido.west |- 0,3223);
\node[lbl, fill=vpkg, inner sep=0.2pt] at (916,3236) {«use»};
\draw[assoc] (Receptor.east |- 0,3320) -- (1532.5,3320) -- (1532.5,3296) -- (DespachadorPedidos.south west);
\draw[dep] (DespachadorPedidos.west |- 0,3209) -- (Pedido.east |- 0,3209);
\node[lbl, fill=white, inner sep=0.2pt] at (1981.5,3207) {«use»};

% Controlador: conectores
\draw[assoc] (cAdmin.west |- 0,2177.6) -- (vAdmin.east |- 0,2177.6);
\draw[assoc] (cCasino.west |- 0,2349.5) -- (vCasino.east |- 0,2349.5);
\draw[assoc] (cTragamonedas.west |- 0,2533.2) -- (vTragamonedas.east |- 0,2533.2);
\draw[assoc] (cVistaCraps.west |- 0,2688.3) -- (vAccesoCraps.east |- 0,2688.3);
\draw[assoc] (cJuegoCraps.west |- 0,2838.8) -- (vJuegoCraps.east |- 0,2838.8);

\draw[assoc] (DespachadorPedidos.east |- 0,3200.3) -- (3237.5,3200.3) -- (3237.5,2828.6) -- (cJuegoCraps.east |- 0,2828.6);
\draw[assoc] (DespachadorPedidos.east |- 0,3219.3) -- (3285.7,3219.3) -- (3285.7,2693.4) -- (cVistaCraps.east |- 0,2693.4);
\draw[assoc] (DespachadorPedidos.east |- 0,3241.3) -- (3318.3,3241.3) -- (3318.3,2522.4) -- (cTragamonedas.east |- 0,2522.4);
\draw[assoc] (DespachadorPedidos.east |- 0,3261) -- (3367.4,3261) -- (3367.4,2373) -- (cCasino.east |- 0,2373);
\draw[assoc] (DespachadorPedidos.east |- 0,3284.3) -- (3412,3284.3) -- (3412,2168) -- (cAdmin.east |- 0,2168);
\end{tikzpicture}
\end{document}
